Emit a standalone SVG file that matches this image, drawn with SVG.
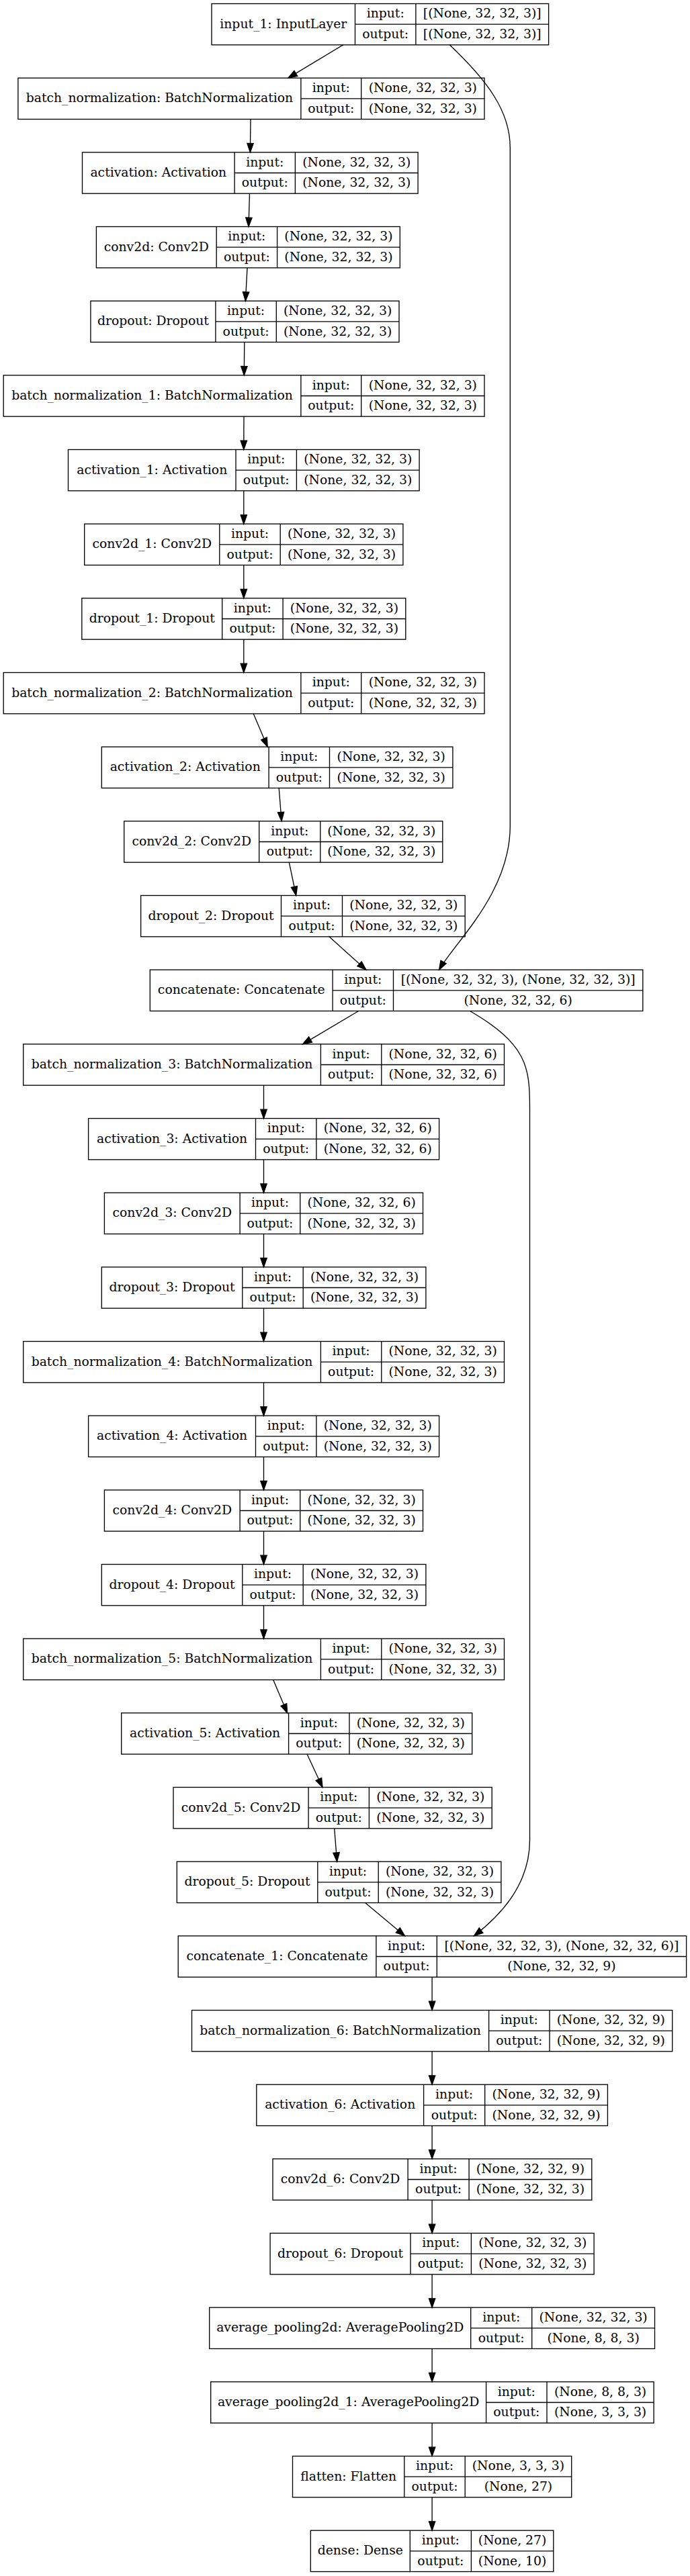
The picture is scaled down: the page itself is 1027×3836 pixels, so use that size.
<svg xmlns="http://www.w3.org/2000/svg" width="1027" height="3836" viewBox="0 0 1027 3836">
<style>
.node rect{fill:#fff;stroke:#000;stroke-width:1.33}
.node path{fill:none;stroke:#000;stroke-width:1.33}
.node text{font-family:"DejaVu Serif","Liberation Serif",serif;font-size:18.8px;text-anchor:middle;fill:#000}
.edge{fill:none;stroke:#000;stroke-width:1.33;marker-end:url(#ah)}
</style>
<defs>
<marker id="ah" markerUnits="userSpaceOnUse" markerWidth="16" markerHeight="12" viewBox="-1 -1 16 12" refX="13.33" refY="4.67" orient="auto" overflow="visible">
<path d="M0,0 L13.33,4.67 L0,9.33 Z" fill="#000" stroke="#000" stroke-width="1.33"/>
</marker>
</defs>
<rect x="0" y="0" width="1027" height="3836" fill="#fff"/>

<g id="input_1" class="node" transform="translate(0,5.5)">
<rect x="315" y="0" width="501.6" height="61.33"/>
<path d="M528.5,0V61.33M618.9,0V61.33M528.5,30.67H816.6"/>
<text x="421.75" y="36.3">input_1: InputLayer</text>
<text x="573.7" y="20.9">input:</text><text x="573.7" y="51.6">output:</text>
<text x="717.75" y="20.9">[(None, 32, 32, 3)]</text><text x="717.75" y="51.6">[(None, 32, 32, 3)]</text>
</g>

<g id="batch_normalization" class="node" transform="translate(0,116.17)">
<rect x="26.9" y="0" width="694.1" height="61.33"/>
<path d="M447.9,0V61.33M537.7,0V61.33M447.9,30.67H721"/>
<text x="237.4" y="36.3">batch_normalization: BatchNormalization</text>
<text x="492.8" y="20.9">input:</text><text x="492.8" y="51.6">output:</text>
<text x="629.35" y="20.9">(None, 32, 32, 3)</text><text x="629.35" y="51.6">(None, 32, 32, 3)</text>
</g>

<g id="activation" class="node" transform="translate(0,226.83)">
<rect x="122.5" y="0" width="499.6" height="61.33"/>
<path d="M349.1,0V61.33M439.4,0V61.33M349.1,30.67H622.1"/>
<text x="235.8" y="36.3">activation: Activation</text>
<text x="394.25" y="20.9">input:</text><text x="394.25" y="51.6">output:</text>
<text x="530.75" y="20.9">(None, 32, 32, 3)</text><text x="530.75" y="51.6">(None, 32, 32, 3)</text>
</g>

<g id="conv2d" class="node" transform="translate(0,337.5)">
<rect x="143.4" y="0" width="451.9" height="61.33"/>
<path d="M322.2,0V61.33M412.6,0V61.33M322.2,30.67H595.3"/>
<text x="232.8" y="36.3">conv2d: Conv2D</text>
<text x="367.4" y="20.9">input:</text><text x="367.4" y="51.6">output:</text>
<text x="503.95" y="20.9">(None, 32, 32, 3)</text><text x="503.95" y="51.6">(None, 32, 32, 3)</text>
</g>

<g id="dropout" class="node" transform="translate(0,448.17)">
<rect x="134.9" y="0" width="459.1" height="61.33"/>
<path d="M320.9,0V61.33M411.3,0V61.33M320.9,30.67H594"/>
<text x="227.9" y="36.3">dropout: Dropout</text>
<text x="366.1" y="20.9">input:</text><text x="366.1" y="51.6">output:</text>
<text x="502.65" y="20.9">(None, 32, 32, 3)</text><text x="502.65" y="51.6">(None, 32, 32, 3)</text>
</g>

<g id="batch_normalization_1" class="node" transform="translate(0,558.83)">
<rect x="5.2" y="0" width="715.8" height="61.33"/>
<path d="M447.9,0V61.33M537.7,0V61.33M447.9,30.67H721"/>
<text x="226.55" y="36.3">batch_normalization_1: BatchNormalization</text>
<text x="492.8" y="20.9">input:</text><text x="492.8" y="51.6">output:</text>
<text x="629.35" y="20.9">(None, 32, 32, 3)</text><text x="629.35" y="51.6">(None, 32, 32, 3)</text>
</g>

<g id="activation_1" class="node" transform="translate(0,669.5)">
<rect x="101.5" y="0" width="522.6" height="61.33"/>
<path d="M351,0V61.33M441.4,0V61.33M351,30.67H624.1"/>
<text x="226.25" y="36.3">activation_1: Activation</text>
<text x="396.2" y="20.9">input:</text><text x="396.2" y="51.6">output:</text>
<text x="532.75" y="20.9">(None, 32, 32, 3)</text><text x="532.75" y="51.6">(None, 32, 32, 3)</text>
</g>

<g id="conv2d_1" class="node" transform="translate(0,780.17)">
<rect x="125.7" y="0" width="474.2" height="61.33"/>
<path d="M326.8,0V61.33M417.2,0V61.33M326.8,30.67H599.9"/>
<text x="226.25" y="36.3">conv2d_1: Conv2D</text>
<text x="372" y="20.9">input:</text><text x="372" y="51.6">output:</text>
<text x="508.55" y="20.9">(None, 32, 32, 3)</text><text x="508.55" y="51.6">(None, 32, 32, 3)</text>
</g>

<g id="dropout_1" class="node" transform="translate(0,890.83)">
<rect x="121.8" y="0" width="482" height="61.33"/>
<path d="M330.7,0V61.33M421.1,0V61.33M330.7,30.67H603.8"/>
<text x="226.25" y="36.3">dropout_1: Dropout</text>
<text x="375.9" y="20.9">input:</text><text x="375.9" y="51.6">output:</text>
<text x="512.45" y="20.9">(None, 32, 32, 3)</text><text x="512.45" y="51.6">(None, 32, 32, 3)</text>
</g>

<g id="batch_normalization_2" class="node" transform="translate(0,1001.5)">
<rect x="5.2" y="0" width="715.8" height="61.33"/>
<path d="M447.9,0V61.33M537.7,0V61.33M447.9,30.67H721"/>
<text x="226.55" y="36.3">batch_normalization_2: BatchNormalization</text>
<text x="492.8" y="20.9">input:</text><text x="492.8" y="51.6">output:</text>
<text x="629.35" y="20.9">(None, 32, 32, 3)</text><text x="629.35" y="51.6">(None, 32, 32, 3)</text>
</g>

<g id="activation_2" class="node" transform="translate(0,1112.17)">
<rect x="151.3" y="0" width="522.6" height="61.33"/>
<path d="M400.1,0V61.33M490.5,0V61.33M400.1,30.67H673.9"/>
<text x="275.7" y="36.3">activation_2: Activation</text>
<text x="445.3" y="20.9">input:</text><text x="445.3" y="51.6">output:</text>
<text x="582.2" y="20.9">(None, 32, 32, 3)</text><text x="582.2" y="51.6">(None, 32, 32, 3)</text>
</g>

<g id="conv2d_2" class="node" transform="translate(0,1222.83)">
<rect x="184.7" y="0" width="474.1" height="61.33"/>
<path d="M385.7,0V61.33M476.8,0V61.33M385.7,30.67H658.8"/>
<text x="285.2" y="36.3">conv2d_2: Conv2D</text>
<text x="431.25" y="20.9">input:</text><text x="431.25" y="51.6">output:</text>
<text x="567.8" y="20.9">(None, 32, 32, 3)</text><text x="567.8" y="51.6">(None, 32, 32, 3)</text>
</g>

<g id="dropout_2" class="node" transform="translate(0,1333.5)">
<rect x="209.6" y="0" width="482.6" height="61.33"/>
<path d="M418.5,0V61.33M509.5,0V61.33M418.5,30.67H692.2"/>
<text x="314.05" y="36.3">dropout_2: Dropout</text>
<text x="464" y="20.9">input:</text><text x="464" y="51.6">output:</text>
<text x="600.85" y="20.9">(None, 32, 32, 3)</text><text x="600.85" y="51.6">(None, 32, 32, 3)</text>
</g>

<g id="concatenate" class="node" transform="translate(0,1444.17)">
<rect x="223.3" y="0" width="733.5" height="61.33"/>
<path d="M495.1,0V61.33M585.5,0V61.33M495.1,30.67H956.8"/>
<text x="359.2" y="36.3">concatenate: Concatenate</text>
<text x="540.3" y="20.9">input:</text><text x="540.3" y="51.6">output:</text>
<text x="771.15" y="20.9">[(None, 32, 32, 3), (None, 32, 32, 3)]</text><text x="771.15" y="51.6">(None, 32, 32, 6)</text>
</g>

<g id="batch_normalization_3" class="node" transform="translate(0,1554.83)">
<rect x="34.7" y="0" width="715.8" height="61.33"/>
<path d="M477.4,0V61.33M567.8,0V61.33M477.4,30.67H750.5"/>
<text x="256.05" y="36.3">batch_normalization_3: BatchNormalization</text>
<text x="522.6" y="20.9">input:</text><text x="522.6" y="51.6">output:</text>
<text x="659.15" y="20.9">(None, 32, 32, 6)</text><text x="659.15" y="51.6">(None, 32, 32, 6)</text>
</g>

<g id="activation_3" class="node" transform="translate(0,1665.5)">
<rect x="131.6" y="0" width="522" height="61.33"/>
<path d="M380.5,0V61.33M470.9,0V61.33M380.5,30.67H653.6"/>
<text x="256.05" y="36.3">activation_3: Activation</text>
<text x="425.7" y="20.9">input:</text><text x="425.7" y="51.6">output:</text>
<text x="562.25" y="20.9">(None, 32, 32, 6)</text><text x="562.25" y="51.6">(None, 32, 32, 6)</text>
</g>

<g id="conv2d_3" class="node" transform="translate(0,1776.17)">
<rect x="155.4" y="0" width="474.1" height="61.33"/>
<path d="M357.1,0V61.33M446.8,0V61.33M357.1,30.67H629.5"/>
<text x="256.25" y="36.3">conv2d_3: Conv2D</text>
<text x="401.95" y="20.9">input:</text><text x="401.95" y="51.6">output:</text>
<text x="538.15" y="20.9">(None, 32, 32, 6)</text><text x="538.15" y="51.6">(None, 32, 32, 3)</text>
</g>

<g id="dropout_3" class="node" transform="translate(0,1886.83)">
<rect x="151.3" y="0" width="482.6" height="61.33"/>
<path d="M360.8,0V61.33M451.2,0V61.33M360.8,30.67H633.9"/>
<text x="256.05" y="36.3">dropout_3: Dropout</text>
<text x="406" y="20.9">input:</text><text x="406" y="51.6">output:</text>
<text x="542.55" y="20.9">(None, 32, 32, 3)</text><text x="542.55" y="51.6">(None, 32, 32, 3)</text>
</g>

<g id="batch_normalization_4" class="node" transform="translate(0,1997.5)">
<rect x="34.7" y="0" width="715.8" height="61.33"/>
<path d="M477.4,0V61.33M567.8,0V61.33M477.4,30.67H750.5"/>
<text x="256.05" y="36.3">batch_normalization_4: BatchNormalization</text>
<text x="522.6" y="20.9">input:</text><text x="522.6" y="51.6">output:</text>
<text x="659.15" y="20.9">(None, 32, 32, 3)</text><text x="659.15" y="51.6">(None, 32, 32, 3)</text>
</g>

<g id="activation_4" class="node" transform="translate(0,2108.17)">
<rect x="131.6" y="0" width="522" height="61.33"/>
<path d="M380.5,0V61.33M470.9,0V61.33M380.5,30.67H653.6"/>
<text x="256.05" y="36.3">activation_4: Activation</text>
<text x="425.7" y="20.9">input:</text><text x="425.7" y="51.6">output:</text>
<text x="562.25" y="20.9">(None, 32, 32, 3)</text><text x="562.25" y="51.6">(None, 32, 32, 3)</text>
</g>

<g id="conv2d_4" class="node" transform="translate(0,2218.83)">
<rect x="155.4" y="0" width="474.1" height="61.33"/>
<path d="M357.1,0V61.33M446.8,0V61.33M357.1,30.67H629.5"/>
<text x="256.25" y="36.3">conv2d_4: Conv2D</text>
<text x="401.95" y="20.9">input:</text><text x="401.95" y="51.6">output:</text>
<text x="538.15" y="20.9">(None, 32, 32, 3)</text><text x="538.15" y="51.6">(None, 32, 32, 3)</text>
</g>

<g id="dropout_4" class="node" transform="translate(0,2329.5)">
<rect x="151.3" y="0" width="482.6" height="61.33"/>
<path d="M360.8,0V61.33M451.2,0V61.33M360.8,30.67H633.9"/>
<text x="256.05" y="36.3">dropout_4: Dropout</text>
<text x="406" y="20.9">input:</text><text x="406" y="51.6">output:</text>
<text x="542.55" y="20.9">(None, 32, 32, 3)</text><text x="542.55" y="51.6">(None, 32, 32, 3)</text>
</g>

<g id="batch_normalization_5" class="node" transform="translate(0,2440.17)">
<rect x="34.7" y="0" width="715.8" height="61.33"/>
<path d="M477.4,0V61.33M567.8,0V61.33M477.4,30.67H750.5"/>
<text x="256.05" y="36.3">batch_normalization_5: BatchNormalization</text>
<text x="522.6" y="20.9">input:</text><text x="522.6" y="51.6">output:</text>
<text x="659.15" y="20.9">(None, 32, 32, 3)</text><text x="659.15" y="51.6">(None, 32, 32, 3)</text>
</g>

<g id="activation_5" class="node" transform="translate(0,2550.83)">
<rect x="180.7" y="0" width="522" height="61.33"/>
<path d="M429.6,0V61.33M520,0V61.33M429.6,30.67H702.7"/>
<text x="305.15" y="36.3">activation_5: Activation</text>
<text x="474.8" y="20.9">input:</text><text x="474.8" y="51.6">output:</text>
<text x="611.35" y="20.9">(None, 32, 32, 3)</text><text x="611.35" y="51.6">(None, 32, 32, 3)</text>
</g>

<g id="conv2d_5" class="node" transform="translate(0,2661.5)">
<rect x="258" y="0" width="474.2" height="61.33"/>
<path d="M459.1,0V61.33M549.4,0V61.33M459.1,30.67H732.2"/>
<text x="358.55" y="36.3">conv2d_5: Conv2D</text>
<text x="504.25" y="20.9">input:</text><text x="504.25" y="51.6">output:</text>
<text x="640.8" y="20.9">(None, 32, 32, 3)</text><text x="640.8" y="51.6">(None, 32, 32, 3)</text>
</g>

<g id="dropout_5" class="node" transform="translate(0,2772.17)">
<rect x="263.3" y="0" width="482.6" height="61.33"/>
<path d="M472.8,0V61.33M563.2,0V61.33M472.8,30.67H745.9"/>
<text x="368.05" y="36.3">dropout_5: Dropout</text>
<text x="518" y="20.9">input:</text><text x="518" y="51.6">output:</text>
<text x="654.55" y="20.9">(None, 32, 32, 3)</text><text x="654.55" y="51.6">(None, 32, 32, 3)</text>
</g>

<g id="concatenate_1" class="node" transform="translate(0,2882.83)">
<rect x="265.2" y="0" width="756.4" height="61.33"/>
<path d="M559.9,0V61.33M650.3,0V61.33M559.9,30.67H1021.6"/>
<text x="412.55" y="36.3">concatenate_1: Concatenate</text>
<text x="605.1" y="20.9">input:</text><text x="605.1" y="51.6">output:</text>
<text x="835.95" y="20.9">[(None, 32, 32, 3), (None, 32, 32, 6)]</text><text x="835.95" y="51.6">(None, 32, 32, 9)</text>
</g>

<g id="batch_normalization_6" class="node" transform="translate(0,2993.5)">
<rect x="285.5" y="0" width="715.2" height="61.33"/>
<path d="M727.6,0V61.33M818,0V61.33M727.6,30.67H1000.7"/>
<text x="506.55" y="36.3">batch_normalization_6: BatchNormalization</text>
<text x="772.8" y="20.9">input:</text><text x="772.8" y="51.6">output:</text>
<text x="909.35" y="20.9">(None, 32, 32, 9)</text><text x="909.35" y="51.6">(None, 32, 32, 9)</text>
</g>

<g id="activation_6" class="node" transform="translate(0,3104.17)">
<rect x="381.8" y="0" width="522.6" height="61.33"/>
<path d="M630.6,0V61.33M721.7,0V61.33M630.6,30.67H904.4"/>
<text x="506.2" y="36.3">activation_6: Activation</text>
<text x="676.15" y="20.9">input:</text><text x="676.15" y="51.6">output:</text>
<text x="813.05" y="20.9">(None, 32, 32, 9)</text><text x="813.05" y="51.6">(None, 32, 32, 9)</text>
</g>

<g id="conv2d_6" class="node" transform="translate(0,3214.83)">
<rect x="406" y="0" width="474.8" height="61.33"/>
<path d="M607.1,0V61.33M698.1,0V61.33M607.1,30.67H880.8"/>
<text x="506.55" y="36.3">conv2d_6: Conv2D</text>
<text x="652.6" y="20.9">input:</text><text x="652.6" y="51.6">output:</text>
<text x="789.45" y="20.9">(None, 32, 32, 9)</text><text x="789.45" y="51.6">(None, 32, 32, 3)</text>
</g>

<g id="dropout_6" class="node" transform="translate(0,3325.5)">
<rect x="402.1" y="0" width="482" height="61.33"/>
<path d="M611,0V61.33M701.4,0V61.33M611,30.67H884.1"/>
<text x="506.55" y="36.3">dropout_6: Dropout</text>
<text x="656.2" y="20.9">input:</text><text x="656.2" y="51.6">output:</text>
<text x="792.75" y="20.9">(None, 32, 32, 3)</text><text x="792.75" y="51.6">(None, 32, 32, 3)</text>
</g>

<g id="average_pooling2d" class="node" transform="translate(0,3436.17)">
<rect x="311.7" y="0" width="662.8" height="61.33"/>
<path d="M700.7,0V61.33M791.7,0V61.33M700.7,30.67H974.5"/>
<text x="506.2" y="36.3">average_pooling2d: AveragePooling2D</text>
<text x="746.2" y="20.9">input:</text><text x="746.2" y="51.6">output:</text>
<text x="883.1" y="20.9">(None, 32, 32, 3)</text><text x="883.1" y="51.6">(None, 8, 8, 3)</text>
</g>

<g id="average_pooling2d_1" class="node" transform="translate(0,3546.83)">
<rect x="313.7" y="0" width="659.4" height="61.33"/>
<path d="M723.6,0V61.33M814,0V61.33M723.6,30.67H973.1"/>
<text x="518.65" y="36.3">average_pooling2d_1: AveragePooling2D</text>
<text x="768.8" y="20.9">input:</text><text x="768.8" y="51.6">output:</text>
<text x="893.55" y="20.9">(None, 8, 8, 3)</text><text x="893.55" y="51.6">(None, 3, 3, 3)</text>
</g>

<g id="flatten" class="node" transform="translate(0,3657.5)">
<rect x="435.5" y="0" width="415.2" height="61.33"/>
<path d="M601.8,0V61.33M692.2,0V61.33M601.8,30.67H850.7"/>
<text x="518.65" y="36.3">flatten: Flatten</text>
<text x="647" y="20.9">input:</text><text x="647" y="51.6">output:</text>
<text x="771.45" y="20.9">(None, 3, 3, 3)</text><text x="771.45" y="51.6">(None, 27)</text>
</g>

<g id="dense" class="node" transform="translate(0,3768.17)">
<rect x="462.3" y="0" width="361.5" height="61.33"/>
<path d="M610.3,0V61.33M701.4,0V61.33M610.3,30.67H823.8"/>
<text x="536.3" y="36.3">dense: Dense</text>
<text x="655.85" y="20.9">input:</text><text x="655.85" y="51.6">output:</text>
<text x="762.6" y="20.9">(None, 27)</text><text x="762.6" y="51.6">(None, 10)</text>
</g>

<g id="connectors">
<path class="edge" d="M510.8,66.83L428.9,116.17"/>
<path class="edge" d="M669.3,66.83C725,120 759.3,165 759.3,220L759.3,1230C759.3,1330 676,1404 653.6,1444.17"/>
<path class="edge" d="M373,177.5L372.4,226.83"/>
<path class="edge" d="M371.5,288.17L370,337.5"/>
<path class="edge" d="M368,398.83L365.4,448.17"/>
<path class="edge" d="M363.8,509.5L363.3,558.83"/>
<path class="edge" d="M363,620.17L362.8,669.5"/>
<path class="edge" d="M362.8,730.83L362.8,780.17"/>
<path class="edge" d="M362.8,841.5L362.8,890.83"/>
<path class="edge" d="M362.8,952.17L362.8,1001.5"/>
<path class="edge" d="M377.2,1062.83L398.2,1112.17"/>
<path class="edge" d="M415.2,1173.5L419.1,1222.83"/>
<path class="edge" d="M430.3,1284.17L440.7,1333.5"/>
<path class="edge" d="M489.9,1394.83L544.9,1444.17"/>
<path class="edge" d="M533.7,1505.5L450.6,1554.83"/>
<path class="edge" d="M699.4,1505.5C785,1555 788.5,1590 788.5,1650L788.5,2740C788.5,2810 740,2856 705.5,2882.83"/>
<path class="edge" d="M392.5,1616.17L392.5,1665.5"/>
<path class="edge" d="M392.5,1726.83L392.5,1776.17"/>
<path class="edge" d="M392.5,1837.5L392.5,1886.83"/>
<path class="edge" d="M392.5,1948.17L392.5,1997.5"/>
<path class="edge" d="M392.5,2058.83L392.5,2108.17"/>
<path class="edge" d="M392.5,2169.5L392.5,2218.83"/>
<path class="edge" d="M392.5,2280.17L392.5,2329.5"/>
<path class="edge" d="M392.5,2390.83L392.5,2440.17"/>
<path class="edge" d="M406.7,2501.5L427.6,2550.83"/>
<path class="edge" d="M457.1,2612.17L480,2661.5"/>
<path class="edge" d="M497.7,2722.83L501.6,2772.17"/>
<path class="edge" d="M543.6,2833.5L602.5,2882.83"/>
<path class="edge" d="M643.1,2944.17L643.1,2993.5"/>
<path class="edge" d="M643.1,3054.83L643.1,3104.17"/>
<path class="edge" d="M643.1,3165.5L643.1,3214.83"/>
<path class="edge" d="M643.1,3276.17L643.1,3325.5"/>
<path class="edge" d="M643.1,3386.83L643.1,3436.17"/>
<path class="edge" d="M643.1,3497.5L643.1,3546.83"/>
<path class="edge" d="M643.1,3608.17L643.1,3657.5"/>
<path class="edge" d="M643.1,3718.83L643.1,3768.17"/>
</g>
</svg>
